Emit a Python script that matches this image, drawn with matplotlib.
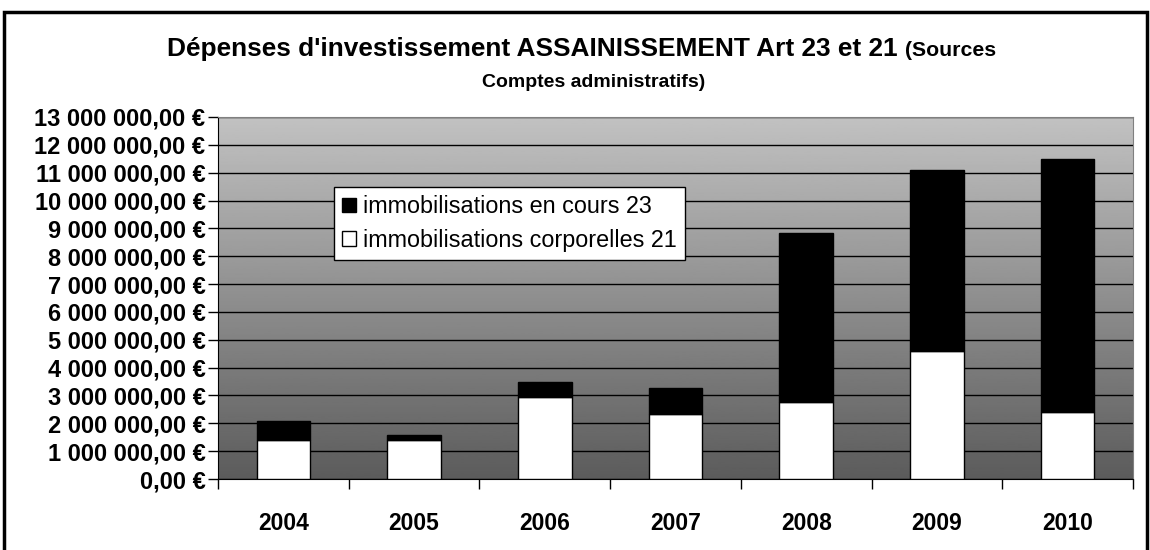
import numpy as np
import matplotlib
matplotlib.use("Agg")
import matplotlib.pyplot as plt
from matplotlib.patches import Rectangle, Patch

years = ["2004", "2005", "2006", "2007", "2008", "2009", "2010"]
corporelles_21 = [1.40e6, 1.40e6, 2.95e6, 2.32e6, 2.77e6, 4.59e6, 2.41e6]
en_cours_23 = [0.70e6, 0.19e6, 0.54e6, 0.93e6, 6.08e6, 6.49e6, 9.07e6]

plt.rcParams["font.family"] = ["Liberation Sans", "DejaVu Sans"]


def euro(v, pos=None):
    s = f"{v:,.2f}".replace(",", " ").replace(".", ",")
    return s + " €"


fig = plt.figure(figsize=(11.5, 5.5), dpi=100)
ax = fig.add_axes([218 / 1150, (550 - 479) / 550, (1133 - 218) / 1150, (479 - 117) / 550])

# outer chart frame
fig.patches.append(Rectangle((4 / 1150, -0.1), 1143 / 1150, (550 - 12) / 550 + 0.1,
                             transform=fig.transFigure, fill=False, lw=2.5,
                             edgecolor="black", zorder=0))

x = np.arange(len(years))
ax.set_xlim(-0.5, len(years) - 0.5)
ax.set_ylim(0, 13e6)

# gradient background
grad = np.linspace(0.36, 0.76, 256).reshape(-1, 1)
ax.imshow(grad, cmap="gray", vmin=0, vmax=1, aspect="auto",
          extent=(-0.5, len(years) - 0.5, 0, 13e6), origin="lower", zorder=0)

ax.set_yticks(np.arange(0, 13e6 + 1, 1e6))
ax.yaxis.set_major_formatter(plt.FuncFormatter(euro))
ax.grid(axis="y", color="black", lw=1.0, zorder=1)
ax.set_axisbelow(True)

w = 0.41
ax.bar(x, corporelles_21, w, color="white", edgecolor="black", lw=1.0, zorder=3)
ax.bar(x, en_cours_23, w, bottom=corporelles_21, color="black",
       edgecolor="black", lw=1.0, zorder=3)

ax.set_xticks(np.arange(len(years) + 1) - 0.5)
ax.set_xticklabels([])
ax.set_xticks(x, minor=True)
ax.set_xticklabels(years, minor=True, fontsize=16.5, fontweight="bold")
ax.tick_params(axis="x", which="minor", length=0, pad=24)
ax.tick_params(axis="x", which="major", length=7, width=1, direction="out")
ax.tick_params(axis="y", length=7, width=1, direction="out", labelsize=17, pad=2)
for lab in ax.get_yticklabels():
    lab.set_fontweight("bold")

ax.spines["top"].set_color("#808080")
ax.spines["right"].set_color("#808080")
ax.spines["left"].set_color("black")
ax.spines["bottom"].set_color("black")

handles = [Patch(facecolor="black", edgecolor="black"),
           Patch(facecolor="white", edgecolor="black")]
leg = ax.legend(handles, ["immobilisations en cours 23", "immobilisations corporelles 21"],
                loc="upper left", bbox_to_anchor=((334 - 218) / 915, (479 - 187) / 362),
                fontsize=16.8, frameon=True, fancybox=False, handlelength=0.6,
                handleheight=0.6, handletextpad=0.3, borderpad=0.35, labelspacing=0.45,
                borderaxespad=0)
leg.get_frame().set_edgecolor("black")
leg.get_frame().set_linewidth(1)
leg.get_frame().set_alpha(1)
leg.set_zorder(5)

split = 905 / 1150
fig.text(split, 1 - 56 / 550, "Dépenses d'investissement ASSAINISSEMENT Art 23 et 21 ",
         ha="right", va="baseline", fontsize=18.9, fontweight="bold")
fig.text(split, 1 - 56 / 550, "(Sources", ha="left", va="baseline",
         fontsize=15.3, fontweight="bold")
fig.text(594 / 1150, 1 - 87 / 550, "Comptes administratifs)", ha="center",
         va="baseline", fontsize=14, fontweight="bold")

fig.savefig("out.png", dpi=100)
